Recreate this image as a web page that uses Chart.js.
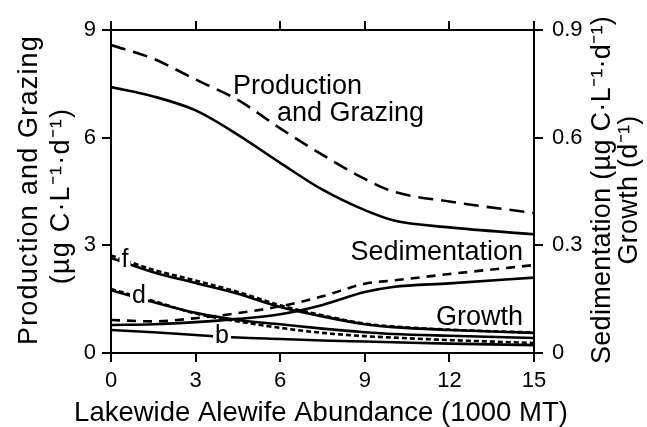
<!DOCTYPE html>
<html>
<head>
<meta charset="utf-8">
<script src="https://cdn.jsdelivr.net/npm/chart.js@4"></script>
<style>
  html, body { margin: 0; padding: 0; background: #fff; }
  #wrap { width: 647px; height: 427px; }
</style>
</head>
<body>
<div id="wrap"><canvas id="chart" width="647" height="427"></canvas></div>
<script>
// alewife abundance (1000 MT)
const abundance = [0, 1.5, 3, 4.5, 6, 7.5, 9, 10, 12, 15];

// left axis: production and grazing (ug C/L/d)
const productionDashed = [8.58, 8.2, 7.62, 7.05, 6.26, 5.52, 4.85, 4.5, 4.22, 3.9];
const productionSolid = [7.41, 7.15, 6.76, 6.08, 5.3, 4.55, 3.98, 3.7, 3.5, 3.31];

// right axis: sedimentation (ug C/L/d) and growth (1/d)
const sedimentationDashed = [0.092, 0.088, 0.097, 0.111, 0.13, 0.158, 0.193, 0.202, 0.22, 0.245];
const sedimentationSolid = [0.078, 0.08, 0.086, 0.095, 0.108, 0.134, 0.17, 0.184, 0.194, 0.21];
const growthF = [0.265, 0.225, 0.195, 0.165, 0.128, 0.102, 0.08, 0.072, 0.064, 0.056];
const growthFDashed = [0.272, 0.232, 0.202, 0.17, 0.133, 0.105, 0.082, 0.074, 0.065, 0.057];
const growthD = [0.175, 0.142, 0.112, 0.092, 0.08, 0.068, 0.058, 0.053, 0.048, 0.042];
const growthDDashed = [0.178, 0.145, 0.11, 0.088, 0.07, 0.056, 0.047, 0.043, 0.036, 0.028];
const growthB = [0.064, 0.058, 0.05, 0.043, 0.039, 0.035, 0.032, 0.03, 0.026, 0.022];

const xTicks = [0, 3, 6, 9, 12, 15];
const leftTicks = [0, 3, 6, 9];
const rightTicks = [0, 0.3, 0.6, 0.9];

const FONT = '"Liberation Sans", Arial, Helvetica, sans-serif';

function points(ys) {
  return abundance.map((x, i) => ({ x, y: ys[i] }));
}

function line(ys, axis, dash, width) {
  return {
    data: points(ys),
    yAxisID: axis,
    borderColor: '#000',
    borderWidth: width || 2.6,
    borderDash: dash || [],
    pointRadius: 0,
    fill: false,
    cubicInterpolationMode: 'monotone',
  };
}

// axis titles and curve labels
const labelsPlugin = {
  id: 'labels',
  afterDraw(chart) {
    const ctx = chart.ctx;
    ctx.save();
    ctx.fillStyle = '#000';
    ctx.textAlign = 'center';
    ctx.textBaseline = 'middle';

    ctx.font = `27px ${FONT}`;
    ctx.letterSpacing = '1.2px';
    const vert = (text, x, y) => {
      ctx.save();
      ctx.translate(x, y);
      ctx.rotate(-Math.PI / 2);
      ctx.fillText(text, 0, 0);
      ctx.restore();
    };
    vert('Production and Grazing', 30, 190);
    vert('(\u00b5g C\u00b7L\u207b\u00b9\u00b7d\u207b\u00b9)', 62, 196);
    ctx.letterSpacing = '0.3px';
    vert('Sedimentation (\u00b5g C\u00b7L\u207b\u00b9\u00b7d\u207b\u00b9)', 603, 190);
    vert('Growth (d\u207b\u00b9)', 630, 190);

    ctx.letterSpacing = '0px';
    ctx.font = `27.5px ${FONT}`;
    ctx.fillText('Lakewide Alewife Abundance (1000 MT)', 321, 413);

    ctx.textAlign = 'left';
    ctx.textBaseline = 'alphabetic';
    ctx.font = `27px ${FONT}`;
    ctx.fillText('Production', 233, 94);
    ctx.fillText('and Grazing', 277, 121);
    ctx.textAlign = 'right';
    ctx.fillText('Sedimentation', 523, 260);
    ctx.fillText('Growth', 523, 325);

    ctx.textAlign = 'center';
    ctx.textBaseline = 'middle';
    ctx.font = `25px ${FONT}`;
    [['f', 125, 260], ['d', 139, 296], ['b', 222, 336]].forEach(([t, x, y]) => {
      const w = ctx.measureText(t).width;
      ctx.fillStyle = '#fff';
      ctx.fillRect(x - w / 2 - 2, y - 9, w + 4, 18);
      ctx.fillStyle = '#000';
      ctx.fillText(t, x, y);
    });
    ctx.restore();
  },
};

function axisGrid() {
  return { drawOnChartArea: false, color: '#000', lineWidth: 2, tickLength: 9 };
}

new Chart(document.getElementById('chart'), {
  type: 'line',
  data: {
    datasets: [
      line(productionDashed, 'y', [15, 8]),
      line(productionSolid, 'y'),
      line(sedimentationDashed, 'y2', [9, 7]),
      line(sedimentationSolid, 'y2'),
      line(growthFDashed, 'y2', [5, 3]),
      line(growthF, 'y2'),
      line(growthDDashed, 'y2', [5, 3]),
      line(growthD, 'y2'),
      line(growthB, 'y2'),
    ],
  },
  options: {
    responsive: false,
    animation: false,
    events: [],
    layout: { padding: 0 },
    plugins: { legend: { display: false }, tooltip: { enabled: false } },
    scales: {
      x: {
        type: 'linear',
        position: 'bottom',
        min: 0,
        max: 15,
        afterBuildTicks: (s) => { s.ticks = xTicks.map((v) => ({ value: v })); },
        ticks: { color: '#000', font: { family: FONT, size: 22 }, padding: 6, maxRotation: 0 },
        grid: axisGrid(),
        border: { color: '#000', width: 2 },
        afterFit: (s) => { s.height = 74; },
      },
      x2: {
        type: 'linear',
        position: 'top',
        min: 0,
        max: 15,
        afterBuildTicks: (s) => { s.ticks = xTicks.map((v) => ({ value: v })); },
        ticks: { display: false },
        grid: axisGrid(),
        border: { color: '#000', width: 2 },
        afterFit: (s) => { s.height = 30; },
      },
      y: {
        position: 'left',
        min: 0,
        max: 9,
        afterBuildTicks: (s) => { s.ticks = leftTicks.map((v) => ({ value: v })); },
        ticks: { color: '#000', font: { family: FONT, size: 22 }, padding: 6 },
        grid: axisGrid(),
        border: { color: '#000', width: 2 },
        afterFit: (s) => { s.width = 111; },
      },
      y2: {
        position: 'right',
        min: 0,
        max: 0.9,
        afterBuildTicks: (s) => { s.ticks = rightTicks.map((v) => ({ value: v })); },
        ticks: {
          color: '#000',
          font: { family: FONT, size: 22 },
          padding: 9,
          callback: (v) => (v === 0 ? '0' : v.toFixed(1)),
        },
        grid: axisGrid(),
        border: { color: '#000', width: 2 },
        afterFit: (s) => { s.width = 113; },
      },
    },
  },
  plugins: [labelsPlugin],
});
</script>
</body>
</html>
